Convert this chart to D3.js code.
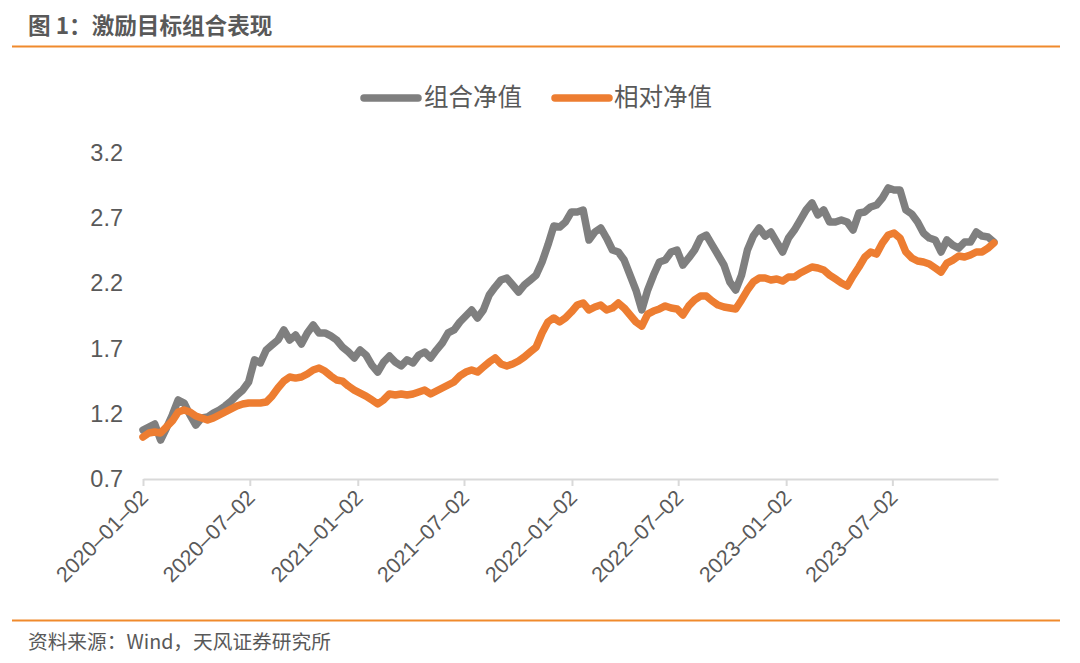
<!DOCTYPE html>
<html><head><meta charset="utf-8">
<script src="https://cdn.jsdelivr.net/npm/d3@7"></script>
<style>
html,body{margin:0;padding:0;background:#fff;}
svg{display:block;font-family:"Liberation Sans","Noto Sans CJK SC",sans-serif;}
</style></head>
<body>
<svg id="chart" width="1080" height="663"></svg>
<script>
const dates = [
"2020-01-02","2020-01-12","2020-01-22","2020-02-01","2020-02-11","2020-02-21","2020-03-02","2020-03-12","2020-03-22","2020-04-01",
"2020-04-11","2020-04-21","2020-05-01","2020-05-11","2020-05-21","2020-05-31","2020-06-10","2020-06-20","2020-06-30","2020-07-10",
"2020-07-20","2020-07-30","2020-08-09","2020-08-19","2020-08-29","2020-09-08","2020-09-18","2020-09-28","2020-10-08","2020-10-18",
"2020-10-28","2020-11-07","2020-11-17","2020-11-27","2020-12-07","2020-12-17","2020-12-27",
"2021-01-06","2021-01-16","2021-01-26","2021-02-05","2021-02-15","2021-02-25","2021-03-07","2021-03-17","2021-03-27","2021-04-06",
"2021-04-16","2021-04-26","2021-05-06","2021-05-16","2021-05-26","2021-06-05","2021-06-15","2021-06-25","2021-07-05","2021-07-15",
"2021-07-25","2021-08-04","2021-08-14","2021-08-24","2021-09-03","2021-09-13","2021-09-23","2021-10-03","2021-10-13","2021-10-23",
"2021-11-02","2021-11-12","2021-11-22","2021-12-02","2021-12-12","2021-12-22",
"2022-01-01","2022-01-11","2022-01-21","2022-01-31","2022-02-10","2022-02-20","2022-03-02","2022-03-12","2022-03-22","2022-04-01",
"2022-04-11","2022-04-21","2022-05-01","2022-05-11","2022-05-21","2022-05-31","2022-06-10","2022-06-20","2022-06-30","2022-07-10",
"2022-07-20","2022-07-30","2022-08-09","2022-08-19","2022-08-29","2022-09-08","2022-09-18","2022-09-28","2022-10-08","2022-10-18",
"2022-10-28","2022-11-07","2022-11-17","2022-11-27","2022-12-07","2022-12-17","2022-12-27",
"2023-01-06","2023-01-16","2023-01-26","2023-02-05","2023-02-15","2023-02-25","2023-03-07","2023-03-17","2023-03-27","2023-04-06",
"2023-04-16","2023-04-26","2023-05-06","2023-05-16","2023-05-26","2023-06-05","2023-06-15","2023-06-25","2023-07-05","2023-07-15",
"2023-07-25","2023-08-04","2023-08-14","2023-08-24","2023-09-03","2023-09-13","2023-09-23","2023-10-03","2023-10-13","2023-10-23",
"2023-11-02","2023-11-12","2023-11-22","2023-12-02","2023-12-12","2023-12-22"
];
const portfolioNav = [
1.076,1.099,1.122,0.999,1.091,1.191,1.306,1.283,1.191,1.114,
1.168,1.175,1.206,1.229,1.260,1.298,1.344,1.382,1.444,1.613,
1.590,1.689,1.728,1.766,1.843,1.766,1.804,1.735,1.820,1.881,
1.820,1.820,1.797,1.766,1.712,1.674,1.628,
1.689,1.651,1.574,1.520,1.597,1.643,1.597,1.567,1.613,1.590,
1.651,1.674,1.628,1.689,1.743,1.820,1.843,1.904,1.950,1.996,
1.935,1.996,2.111,2.172,2.226,2.241,2.188,2.134,2.188,2.226,
2.264,2.364,2.494,2.640,2.632,2.671,
2.748,2.748,2.763,2.533,2.594,2.625,2.548,2.456,2.441,2.379,
2.264,2.149,1.996,2.149,2.264,2.364,2.379,2.441,2.456,2.341,
2.395,2.456,2.548,2.571,2.494,2.418,2.341,2.211,2.149,2.264,
2.456,2.563,2.625,2.563,2.594,2.517,2.441,
2.548,2.609,2.686,2.763,2.817,2.725,2.763,2.671,2.671,2.686,
2.671,2.609,2.740,2.748,2.786,2.801,2.855,2.932,2.916,2.916,
2.763,2.732,2.671,2.586,2.548,2.533,2.441,2.533,2.494,2.471,
2.517,2.517,2.594,2.563,2.556,2.517
];
const relativeNav = [
1.022,1.053,1.060,1.053,1.099,1.145,1.214,1.229,1.214,1.183,
1.168,1.152,1.168,1.191,1.214,1.237,1.260,1.275,1.283,1.283,
1.283,1.290,1.336,1.398,1.451,1.482,1.474,1.482,1.505,1.536,
1.551,1.528,1.490,1.459,1.451,1.413,1.382,
1.359,1.336,1.306,1.275,1.306,1.352,1.344,1.352,1.344,1.352,
1.367,1.382,1.352,1.375,1.398,1.421,1.444,1.490,1.520,1.536,
1.520,1.559,1.597,1.628,1.582,1.567,1.582,1.605,1.636,1.674,
1.712,1.820,1.904,1.935,1.904,1.935,
1.981,2.034,2.050,1.996,2.019,2.034,1.996,2.011,2.050,2.011,
1.958,1.904,1.873,1.965,1.988,2.004,2.027,2.011,2.004,1.958,
2.027,2.073,2.103,2.103,2.065,2.034,2.019,2.011,2.004,2.073,
2.149,2.211,2.241,2.241,2.226,2.234,2.218,
2.249,2.249,2.280,2.303,2.326,2.318,2.303,2.264,2.234,2.203,
2.180,2.257,2.326,2.402,2.441,2.425,2.510,2.571,2.586,2.548,
2.441,2.395,2.372,2.364,2.349,2.318,2.287,2.356,2.379,2.410,
2.402,2.418,2.441,2.441,2.471,2.510
];
const yTicks = [0.7,1.2,1.7,2.2,2.7,3.2];
const xTickLabels = ["2020-01-02","2020-07-02","2021-01-02","2021-07-02","2022-01-02","2022-07-02","2023-01-02","2023-07-02"];
const seriesNames = ["组合净值","相对净值"];
const seriesColors = ["#7f7f7f","#ed7d31"];
const titleText = "图 1：激励目标组合表现";
const sourceText = "资料来源：Wind，天风证券研究所";

const parse = d3.timeParse("%Y-%m-%d");
const svg = d3.select("#chart");
const cjk = "'Noto Sans CJK SC',sans-serif";
const latin = "'Liberation Sans',Arial,sans-serif";

// header & footer
svg.append("text").attr("x",28).attr("y",34).attr("font-size",22.6).attr("font-weight","bold")
  .attr("fill","#595959").attr("font-family",cjk).text(titleText);
svg.append("line").attr("x1",12).attr("x2",1060).attr("y1",46.5).attr("y2",46.5)
  .attr("stroke","#f08a2c").attr("stroke-width",2);
svg.append("line").attr("x1",12).attr("x2",1060).attr("y1",620.5).attr("y2",620.5)
  .attr("stroke","#f08a2c").attr("stroke-width",2);
svg.append("text").attr("x",28).attr("y",649).attr("font-size",19.7)
  .attr("fill","#595959").attr("font-family",cjk).text(sourceText);

const x = d3.scaleTime()
  .domain([parse("2020-01-02"), parse("2023-12-29")])
  .range([143, 998]);
const y = d3.scaleLinear().domain([0.7,3.2]).range([479,153]);

// y axis labels
const yAxis = d3.axisLeft(y).tickValues(yTicks).tickFormat(d3.format(".1f")).tickSize(0).tickPadding(0);
const gy = svg.append("g").attr("transform","translate(123,0)").call(yAxis);
gy.select(".domain").remove();
gy.selectAll("text").attr("font-size",23.5).attr("fill","#595959").attr("font-family",latin);

// x axis
const dashFmt = d3.timeFormat("%Y–%m–%d");
const xAxis = d3.axisBottom(x).tickValues(xTickLabels.map(parse)).tickFormat(dashFmt).tickSize(7).tickSizeOuter(0);
const gx = svg.append("g").attr("transform","translate(0,479)").call(xAxis);
gx.select(".domain").attr("stroke","#d9d9d9").attr("stroke-width",2);
gx.selectAll(".tick line").attr("stroke","#d9d9d9").attr("stroke-width",2);
gx.selectAll("text").attr("font-size",21.5).attr("fill","#595959").attr("font-family",latin)
  .attr("text-anchor","end").attr("dy",0).attr("x",0).attr("y",0)
  .attr("transform","translate(6,20) rotate(-45)");

// lines
const seriesData = [portfolioNav, relativeNav];
const line = d3.line().x(d=>x(d.date)).y(d=>y(d.v)).curve(d3.curveLinear);
seriesData.forEach((vals,i)=>{
  const data = dates.map((d,j)=>({date:parse(d), v:vals[j]}));
  svg.append("path").datum(data).attr("d",line).attr("fill","none")
    .attr("stroke",seriesColors[i]).attr("stroke-width",7.5)
    .attr("stroke-linejoin","round").attr("stroke-linecap","round");
});

// legend
const legendPos = [[364,424],[555,614]];
seriesNames.forEach((n,i)=>{
  svg.append("line").attr("x1",legendPos[i][0]).attr("x2",legendPos[i][0]+54)
    .attr("y1",98).attr("y2",98).attr("stroke",seriesColors[i]).attr("stroke-width",7.5)
    .attr("stroke-linecap","round");
  svg.append("text").attr("x",legendPos[i][1]).attr("y",106).attr("font-size",24.5)
    .attr("fill","#595959").attr("font-family",cjk).text(n);
});
</script>
</body></html>
